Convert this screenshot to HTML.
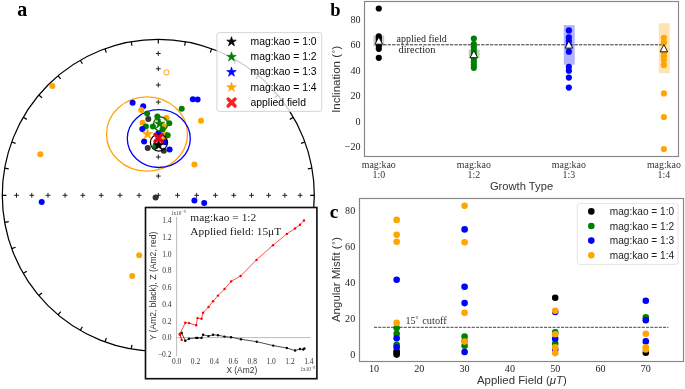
<!DOCTYPE html>
<html><head><meta charset="utf-8"><style>
html,body{margin:0;padding:0;background:#fff;}
body{width:685px;height:389px;overflow:hidden;font-family:"Liberation Sans", sans-serif;}
svg{display:block;will-change:transform;}
</style></head><body>
<svg width="685" height="389" viewBox="0 0 685 389">
<rect width="685" height="389" fill="#fff"/>
<circle cx="158.3" cy="195.3" r="156" fill="none" stroke="#000" stroke-width="1.25"/>
<path d="M158.3 39.3L158.3 43.44M185.39 41.67L184.67 45.74M211.66 48.71L210.24 52.6M236.3 60.2L234.23 63.78M258.57 75.8L255.92 78.97M277.8 95.03L274.63 97.68M293.4 117.3L289.82 119.37M304.89 141.94L301 143.36M311.93 168.21L307.86 168.93M314.3 195.3L310.16 195.3M311.93 222.39L307.86 221.67M304.89 248.66L301 247.24M293.4 273.3L289.82 271.23M277.8 295.57L274.63 292.92M258.57 314.8L255.92 311.63M236.3 330.4L234.23 326.82M211.66 341.89L210.24 338M185.39 348.93L184.67 344.86M158.3 351.3L158.3 347.16M131.21 348.93L131.93 344.86M104.94 341.89L106.36 338M80.3 330.4L82.37 326.82M58.03 314.8L60.68 311.63M38.8 295.57L41.97 292.92M23.2 273.3L26.78 271.23M11.71 248.66L15.6 247.24M4.67 222.39L8.74 221.67M2.3 195.3L6.44 195.3M4.67 168.21L8.74 168.93M11.71 141.94L15.6 143.36M23.2 117.3L26.78 119.37M38.8 95.03L41.97 97.68M58.03 75.8L60.68 78.97M80.3 60.2L82.37 63.78M104.94 48.71L106.36 52.6M131.21 41.67L131.93 45.74" stroke="#000" stroke-width="1.2" fill="none"/>
<path d="M155.9 233.61h4.8M158.3 231.21v4.8M155.9 156.99h4.8M158.3 154.59v4.8M297.71 195.3h4.8M300.11 192.9v4.8M155.9 53.49h4.8M158.3 51.09v4.8M98.8 195.3h4.8M101.2 192.9v4.8M155.9 214.53h4.8M158.3 212.13v4.8M29.36 195.3h4.8M31.76 192.9v4.8M155.9 84.99h4.8M158.3 82.59v4.8M282.44 195.3h4.8M284.84 192.9v4.8M136.67 195.3h4.8M139.07 192.9v4.8M266.21 195.3h4.8M268.61 192.9v4.8M62.66 195.3h4.8M65.06 192.9v4.8M155.9 288.54h4.8M158.3 286.14v4.8M155.9 321.84h4.8M158.3 319.44v4.8M155.9 195.3h4.8M158.3 192.9v4.8M175.13 195.3h4.8M177.53 192.9v4.8M155.9 305.61h4.8M158.3 303.21v4.8M155.9 119.84h4.8M158.3 117.44v4.8M80.44 195.3h4.8M82.84 192.9v4.8M155.9 102.06h4.8M158.3 99.66v4.8M155.9 68.76h4.8M158.3 66.36v4.8M45.59 195.3h4.8M47.99 192.9v4.8M231.36 195.3h4.8M233.76 192.9v4.8M155.9 176.07h4.8M158.3 173.67v4.8M155.9 270.76h4.8M158.3 268.36v4.8M194.21 195.3h4.8M196.61 192.9v4.8M117.59 195.3h4.8M119.99 192.9v4.8M14.09 195.3h4.8M16.49 192.9v4.8M213 195.3h4.8M215.4 192.9v4.8M155.9 252.4h4.8M158.3 250v4.8M155.9 337.11h4.8M158.3 334.71v4.8M249.14 195.3h4.8M251.54 192.9v4.8M155.9 138.2h4.8M158.3 135.8v4.8" stroke="#222" stroke-width="1" fill="none"/>
<ellipse cx="147" cy="134" rx="40.5" ry="37.2" fill="none" stroke="#ffa500" stroke-width="1.3"/>
<ellipse cx="158.8" cy="138.6" rx="31.5" ry="28.9" fill="none" stroke="#0000ff" stroke-width="1.3"/>
<circle cx="52.4" cy="85.9" r="3" fill="#ffa500"/>
<circle cx="40.3" cy="154.3" r="3" fill="#ffa500"/>
<circle cx="41.7" cy="202.1" r="3" fill="#0000ff"/>
<circle cx="192.8" cy="99.2" r="3" fill="#0000ff"/>
<circle cx="197.6" cy="99.5" r="3" fill="#0000ff"/>
<circle cx="181.7" cy="108.8" r="3" fill="#008000"/>
<circle cx="201" cy="120.8" r="3" fill="#ffa500"/>
<circle cx="194.4" cy="164.5" r="3" fill="#ffa500"/>
<circle cx="132.6" cy="102.8" r="3" fill="#0000ff"/>
<circle cx="194.4" cy="200.5" r="3" fill="#0000ff"/>
<circle cx="204.2" cy="202.9" r="3" fill="#0000ff"/>
<circle cx="139.2" cy="255.3" r="3" fill="#ffa500"/>
<circle cx="132.2" cy="276.1" r="3" fill="#ffa500"/>
<circle cx="155.6" cy="197.4" r="3" fill="#333333"/>
<circle cx="143.2" cy="106.3" r="3" fill="#0000ff"/>
<circle cx="141.3" cy="110.1" r="3" fill="#ffa500"/>
<circle cx="147.1" cy="113.4" r="3" fill="#008000"/>
<circle cx="148.3" cy="119" r="3" fill="#333333"/>
<circle cx="157.3" cy="116.5" r="3" fill="#008000"/>
<circle cx="166.5" cy="118" r="3" fill="#ffa500"/>
<circle cx="169.3" cy="123.3" r="3" fill="#008000"/>
<circle cx="142.6" cy="122.7" r="3" fill="#ffa500"/>
<circle cx="145.9" cy="126.5" r="3" fill="#008000"/>
<circle cx="152.9" cy="126.4" r="3" fill="#008000"/>
<circle cx="164.4" cy="126.4" r="3" fill="#ffa500"/>
<circle cx="142.3" cy="129" r="3" fill="#0000ff"/>
<circle cx="162.5" cy="129.5" r="3" fill="#008000"/>
<circle cx="158.5" cy="133" r="3" fill="#0000ff"/>
<circle cx="165.7" cy="134.6" r="3" fill="#ffa500"/>
<circle cx="167.7" cy="135.2" r="3" fill="#008000"/>
<circle cx="144.1" cy="141.6" r="3" fill="#0000ff"/>
<circle cx="164.4" cy="139.7" r="3" fill="#ffa500"/>
<circle cx="165.1" cy="142.3" r="3" fill="#0000ff"/>
<circle cx="155.3" cy="146.3" r="3" fill="#008000"/>
<circle cx="147.7" cy="148.1" r="3" fill="#333333"/>
<circle cx="163.8" cy="150.7" r="3" fill="#333333"/>
<circle cx="169.6" cy="149.4" r="3" fill="#0000ff"/>
<circle cx="166.5" cy="72.4" r="2.6" fill="none" stroke="#ffa500" stroke-width="1"/>
<circle cx="160.6" cy="124" r="7" fill="none" stroke="#008000" stroke-width="1.3"/>
<circle cx="158.9" cy="142.6" r="8.5" fill="none" stroke="#000" stroke-width="1.3"/>
<polygon points="159.6,118.4 160.81,122.13 164.74,122.13 161.56,124.44 162.77,128.17 159.6,125.86 156.43,128.17 157.64,124.44 154.46,122.13 158.39,122.13" fill="#008000" stroke="#008000" stroke-width="0.7" stroke-linejoin="miter"/>
<polygon points="147.5,128.7 148.71,132.43 152.64,132.43 149.46,134.74 150.67,138.47 147.5,136.16 144.33,138.47 145.54,134.74 142.36,132.43 146.29,132.43" fill="#ffa500" stroke="#ffa500" stroke-width="0.7" stroke-linejoin="miter"/>
<polygon points="158.6,139.8 159.81,143.53 163.74,143.53 160.56,145.84 161.77,149.57 158.6,147.26 155.43,149.57 156.64,145.84 153.46,143.53 157.39,143.53" fill="#000" stroke="#000" stroke-width="0.7" stroke-linejoin="miter"/>
<path d="M155 134.4L162 141.4M155 141.4L162 134.4" stroke="#e4001e" stroke-width="3.6" stroke-linecap="round"/>
<rect x="216.9" y="32.6" width="104.8" height="78.8" rx="2.5" fill="#fff" fill-opacity="0.8" stroke="#ccc" stroke-width="0.8"/>
<polygon points="231.5,36.7 232.62,40.15 236.26,40.15 233.32,42.29 234.44,45.75 231.5,43.61 228.56,45.75 229.68,42.29 226.74,40.15 230.38,40.15" fill="#000" stroke="#000" stroke-width="0.7" stroke-linejoin="miter"/>
<text x="250.5" y="44.9" font-family='"Liberation Sans", sans-serif' font-size="10.4" fill="#000">mag:kao = 1:0</text>
<polygon points="231.5,51.9 232.62,55.35 236.26,55.35 233.32,57.49 234.44,60.95 231.5,58.81 228.56,60.95 229.68,57.49 226.74,55.35 230.38,55.35" fill="#008000" stroke="#008000" stroke-width="0.7" stroke-linejoin="miter"/>
<text x="250.5" y="60.1" font-family='"Liberation Sans", sans-serif' font-size="10.4" fill="#000">mag:kao = 1:2</text>
<polygon points="231.5,67.1 232.62,70.55 236.26,70.55 233.32,72.69 234.44,76.15 231.5,74.01 228.56,76.15 229.68,72.69 226.74,70.55 230.38,70.55" fill="#0000ff" stroke="#0000ff" stroke-width="0.7" stroke-linejoin="miter"/>
<text x="250.5" y="75.3" font-family='"Liberation Sans", sans-serif' font-size="10.4" fill="#000">mag:kao = 1:3</text>
<polygon points="231.5,82.3 232.62,85.75 236.26,85.75 233.32,87.89 234.44,91.35 231.5,89.21 228.56,91.35 229.68,87.89 226.74,85.75 230.38,85.75" fill="#ffa500" stroke="#ffa500" stroke-width="0.7" stroke-linejoin="miter"/>
<text x="250.5" y="90.5" font-family='"Liberation Sans", sans-serif' font-size="10.4" fill="#000">mag:kao = 1:4</text>
<path d="M228.2 99.1L235 105.9M228.2 105.9L235 99.1" stroke="#ff2020" stroke-width="3.6" stroke-linecap="round"/>
<text x="250.5" y="105.7" font-family='"Liberation Sans", sans-serif' font-size="10.4" fill="#000">applied field</text>
<text x="17.2" y="15.9" font-family='"Liberation Serif", serif' font-weight="bold" font-size="20">a</text>
<text x="330.3" y="15.7" font-family='"Liberation Serif", serif' font-weight="bold" font-size="18.5">b</text>
<text x="329.8" y="218" font-family='"Liberation Serif", serif' font-weight="bold" font-size="19.4">c</text>
<rect x="145.5" y="207.5" width="171.4" height="171.2" fill="#fff" stroke="#111" stroke-width="1.65"/>
<path d="M176.6 217V356.19M176.6 337.6H310.5" stroke="#bbb" stroke-width="1" fill="none"/>
<text x="171.5" y="222.98" text-anchor="end" font-family='"Liberation Serif", serif' font-size="7.5" fill="#333">1.4</text>
<text x="171.5" y="239.74" text-anchor="end" font-family='"Liberation Serif", serif' font-size="7.5" fill="#333">1.2</text>
<text x="171.5" y="256.5" text-anchor="end" font-family='"Liberation Serif", serif' font-size="7.5" fill="#333">1.0</text>
<text x="171.5" y="273.26" text-anchor="end" font-family='"Liberation Serif", serif' font-size="7.5" fill="#333">0.8</text>
<text x="171.5" y="290.02" text-anchor="end" font-family='"Liberation Serif", serif' font-size="7.5" fill="#333">0.6</text>
<text x="171.5" y="306.78" text-anchor="end" font-family='"Liberation Serif", serif' font-size="7.5" fill="#333">0.4</text>
<text x="171.5" y="323.54" text-anchor="end" font-family='"Liberation Serif", serif' font-size="7.5" fill="#333">0.2</text>
<text x="171.5" y="340.3" text-anchor="end" font-family='"Liberation Serif", serif' font-size="7.5" fill="#333">0.0</text>
<text x="171.5" y="357.06" text-anchor="end" font-family='"Liberation Serif", serif' font-size="7.5" fill="#333">−0.2</text>
<text x="176.6" y="364.3" text-anchor="middle" font-family='"Liberation Serif", serif' font-size="7.5" fill="#333">0.0</text>
<text x="195.5" y="364.3" text-anchor="middle" font-family='"Liberation Serif", serif' font-size="7.5" fill="#333">0.2</text>
<text x="214.4" y="364.3" text-anchor="middle" font-family='"Liberation Serif", serif' font-size="7.5" fill="#333">0.4</text>
<text x="233.3" y="364.3" text-anchor="middle" font-family='"Liberation Serif", serif' font-size="7.5" fill="#333">0.6</text>
<text x="252.2" y="364.3" text-anchor="middle" font-family='"Liberation Serif", serif' font-size="7.5" fill="#333">0.8</text>
<text x="271.1" y="364.3" text-anchor="middle" font-family='"Liberation Serif", serif' font-size="7.5" fill="#333">1.0</text>
<text x="290" y="364.3" text-anchor="middle" font-family='"Liberation Serif", serif' font-size="7.5" fill="#333">1.2</text>
<text x="308.9" y="364.3" text-anchor="middle" font-family='"Liberation Serif", serif' font-size="7.5" fill="#333">1.4</text>
<text x="171" y="214.8" font-family='"Liberation Serif", serif' font-size="5.2" fill="#444">1x10<tspan dy="-2.3" font-size="4">−9</tspan></text>
<text x="300.5" y="371.2" font-family='"Liberation Serif", serif' font-size="5.2" fill="#444">1x10<tspan dy="-2.3" font-size="4">−9</tspan></text>
<text x="226.4" y="373.4" textLength="30.8" lengthAdjust="spacingAndGlyphs" font-family='"Liberation Sans", sans-serif' font-size="9.3" fill="#333">X (Am2)</text>
<text transform="translate(155.5 286) rotate(-90)" text-anchor="middle" font-family='"Liberation Sans", sans-serif' font-size="8.55" fill="#333">Y (Am2, black), Z (Am2, red)</text>
<text x="190.3" y="220.5" font-family='"Liberation Serif", serif' font-size="11.4" fill="#222">mag:kao = 1:2</text>
<text x="190.3" y="234.7" font-family='"Liberation Serif", serif' font-size="11.4" fill="#222">Applied field: 15μT</text>
<path d="M179.9 333.9 L181.7 333 L185.3 340.8 L189 338.8 L196.2 337.9 L197.5 337.9 L201.5 337.9 L203.1 334.8 L208.5 336.1 L213.1 334.8 L218 335.2 L224.5 336.6 L231.1 337.2 L241 339.3 L256.8 341.7 L273.2 345.6 L286.8 348 L295.1 350.5 L300 349 L303.2 349.5 L304.4 348.5" stroke="#000" stroke-width="0.7" fill="none"/><circle cx="179.9" cy="333.9" r="1.2" fill="#000"/><circle cx="181.7" cy="333" r="1.2" fill="#000"/><circle cx="185.3" cy="340.8" r="1.2" fill="#000"/><circle cx="189" cy="338.8" r="1.2" fill="#000"/><circle cx="196.2" cy="337.9" r="1.2" fill="#000"/><circle cx="197.5" cy="337.9" r="1.2" fill="#000"/><circle cx="201.5" cy="337.9" r="1.2" fill="#000"/><circle cx="203.1" cy="334.8" r="1.2" fill="#000"/><circle cx="208.5" cy="336.1" r="1.2" fill="#000"/><circle cx="213.1" cy="334.8" r="1.2" fill="#000"/><circle cx="218" cy="335.2" r="1.2" fill="#000"/><circle cx="224.5" cy="336.6" r="1.2" fill="#000"/><circle cx="231.1" cy="337.2" r="1.2" fill="#000"/><circle cx="241" cy="339.3" r="1.2" fill="#000"/><circle cx="256.8" cy="341.7" r="1.2" fill="#000"/><circle cx="273.2" cy="345.6" r="1.2" fill="#000"/><circle cx="286.8" cy="348" r="1.2" fill="#000"/><circle cx="295.1" cy="350.5" r="1.2" fill="#000"/><circle cx="300" cy="349" r="1.2" fill="#000"/><circle cx="303.2" cy="349.5" r="1.2" fill="#000"/><circle cx="304.4" cy="348.5" r="1.2" fill="#000"/>
<path d="M179.9 334.8 L181.7 339.9 L179.9 333.9 L185.3 322.8 L189.1 323.1 L196.2 325.3 L197.5 318.1 L201.5 318.7 L203.1 312.7 L208.5 307 L213.1 301.2 L218 295.6 L224.5 289 L231.1 281.4 L240.6 276 L256.5 259.9 L273 245.2 L286.9 233.9 L295 228.5 L300 224.7 L304 220.5" stroke="#ff0000" stroke-width="0.7" fill="none"/><circle cx="179.9" cy="334.8" r="1.2" fill="#ff0000"/><circle cx="181.7" cy="339.9" r="1.2" fill="#ff0000"/><circle cx="179.9" cy="333.9" r="1.2" fill="#ff0000"/><circle cx="185.3" cy="322.8" r="1.2" fill="#ff0000"/><circle cx="189.1" cy="323.1" r="1.2" fill="#ff0000"/><circle cx="196.2" cy="325.3" r="1.2" fill="#ff0000"/><circle cx="197.5" cy="318.1" r="1.2" fill="#ff0000"/><circle cx="201.5" cy="318.7" r="1.2" fill="#ff0000"/><circle cx="203.1" cy="312.7" r="1.2" fill="#ff0000"/><circle cx="208.5" cy="307" r="1.2" fill="#ff0000"/><circle cx="213.1" cy="301.2" r="1.2" fill="#ff0000"/><circle cx="218" cy="295.6" r="1.2" fill="#ff0000"/><circle cx="224.5" cy="289" r="1.2" fill="#ff0000"/><circle cx="231.1" cy="281.4" r="1.2" fill="#ff0000"/><circle cx="240.6" cy="276" r="1.2" fill="#ff0000"/><circle cx="256.5" cy="259.9" r="1.2" fill="#ff0000"/><circle cx="273" cy="245.2" r="1.2" fill="#ff0000"/><circle cx="286.9" cy="233.9" r="1.2" fill="#ff0000"/><circle cx="295" cy="228.5" r="1.2" fill="#ff0000"/><circle cx="300" cy="224.7" r="1.2" fill="#ff0000"/><circle cx="304" cy="220.5" r="1.2" fill="#ff0000"/>
<rect x="364.5" y="1.5" width="314" height="155" fill="none" stroke="#858585" stroke-width="1.15"/>
<text x="360.5" y="22.7" text-anchor="end" font-family='"Liberation Serif", serif' font-size="10.1" fill="#222">80</text>
<text x="360.5" y="48.2" text-anchor="end" font-family='"Liberation Serif", serif' font-size="10.1" fill="#222">60</text>
<text x="360.5" y="73.7" text-anchor="end" font-family='"Liberation Serif", serif' font-size="10.1" fill="#222">40</text>
<text x="360.5" y="99.2" text-anchor="end" font-family='"Liberation Serif", serif' font-size="10.1" fill="#222">20</text>
<text x="360.5" y="124.7" text-anchor="end" font-family='"Liberation Serif", serif' font-size="10.1" fill="#222">0</text>
<text x="360.5" y="150.2" text-anchor="end" font-family='"Liberation Serif", serif' font-size="10.1" fill="#222">−20</text>
<text x="378.8" y="167.5" text-anchor="middle" font-family='"Liberation Serif", serif' font-size="9.9" fill="#333">mag:kao</text>
<text x="378.8" y="178.3" text-anchor="middle" font-family='"Liberation Serif", serif' font-size="9.9" fill="#333">1:0</text>
<text x="473.83" y="167.5" text-anchor="middle" font-family='"Liberation Serif", serif' font-size="9.9" fill="#333">mag:kao</text>
<text x="473.83" y="178.3" text-anchor="middle" font-family='"Liberation Serif", serif' font-size="9.9" fill="#333">1:2</text>
<text x="568.86" y="167.5" text-anchor="middle" font-family='"Liberation Serif", serif' font-size="9.9" fill="#333">mag:kao</text>
<text x="568.86" y="178.3" text-anchor="middle" font-family='"Liberation Serif", serif' font-size="9.9" fill="#333">1:3</text>
<text x="663.89" y="167.5" text-anchor="middle" font-family='"Liberation Serif", serif' font-size="9.9" fill="#333">mag:kao</text>
<text x="663.89" y="178.3" text-anchor="middle" font-family='"Liberation Serif", serif' font-size="9.9" fill="#333">1:4</text>
<text x="521.5" y="190.2" text-anchor="middle" font-family='"Liberation Sans", sans-serif' font-size="11.2" fill="#333">Growth Type</text>
<text transform="translate(340.4 79.2) rotate(-90)" text-anchor="middle" font-family='"Liberation Sans", sans-serif' font-size="11.5" fill="#333">Inclination (<tspan font-size="8" dx="0.7" dy="-2.6">°</tspan><tspan dx="0.7" dy="2.6">)</tspan></text>
<rect x="373.4" y="35.5" width="10.8" height="10.7" fill="#000" fill-opacity="0.2"/>
<rect x="468.8" y="49.6" width="10.8" height="8.7" fill="#008000" fill-opacity="0.3"/>
<rect x="563.8" y="25.1" width="10.9" height="39.6" fill="#0000ff" fill-opacity="0.3"/>
<rect x="658.8" y="23.2" width="10.9" height="50" fill="#ffa500" fill-opacity="0.3"/>
<path d="M378.8 44.8H663.89" stroke="#333" stroke-width="1" stroke-dasharray="3.3 1.15"/>
<circle cx="378.8" cy="8.5" r="3.1" fill="#000"/>
<circle cx="378.8" cy="36.4" r="3.1" fill="#000"/>
<circle cx="378.8" cy="38.5" r="3.1" fill="#000"/>
<circle cx="378.8" cy="41" r="3.1" fill="#000"/>
<circle cx="378.8" cy="43.5" r="3.1" fill="#000"/>
<circle cx="378.8" cy="46" r="3.1" fill="#000"/>
<circle cx="378.8" cy="48.8" r="3.1" fill="#000"/>
<circle cx="378.8" cy="57.8" r="3.1" fill="#000"/>
<circle cx="473.83" cy="38.5" r="3.1" fill="#008000"/>
<circle cx="473.83" cy="44" r="3.1" fill="#008000"/>
<circle cx="473.83" cy="47" r="3.1" fill="#008000"/>
<circle cx="473.83" cy="50" r="3.1" fill="#008000"/>
<circle cx="473.83" cy="53" r="3.1" fill="#008000"/>
<circle cx="473.83" cy="56" r="3.1" fill="#008000"/>
<circle cx="473.83" cy="59" r="3.1" fill="#008000"/>
<circle cx="473.83" cy="62" r="3.1" fill="#008000"/>
<circle cx="473.83" cy="65" r="3.1" fill="#008000"/>
<circle cx="473.83" cy="67.8" r="3.1" fill="#008000"/>
<circle cx="568.86" cy="30.4" r="3.1" fill="#0000ff"/>
<circle cx="568.86" cy="37.3" r="3.1" fill="#0000ff"/>
<circle cx="568.86" cy="41" r="3.1" fill="#0000ff"/>
<circle cx="568.86" cy="45.2" r="3.1" fill="#0000ff"/>
<circle cx="568.86" cy="51.7" r="3.1" fill="#0000ff"/>
<circle cx="568.86" cy="66.8" r="3.1" fill="#0000ff"/>
<circle cx="568.86" cy="70.7" r="3.1" fill="#0000ff"/>
<circle cx="568.86" cy="77.6" r="3.1" fill="#0000ff"/>
<circle cx="568.86" cy="87.6" r="3.1" fill="#0000ff"/>
<circle cx="663.89" cy="37.8" r="3.1" fill="#ffa500"/>
<circle cx="663.89" cy="42.4" r="3.1" fill="#ffa500"/>
<circle cx="663.89" cy="52.9" r="3.1" fill="#ffa500"/>
<circle cx="663.89" cy="56" r="3.1" fill="#ffa500"/>
<circle cx="663.89" cy="59.8" r="3.1" fill="#ffa500"/>
<circle cx="663.89" cy="64.9" r="3.1" fill="#ffa500"/>
<circle cx="663.89" cy="93.4" r="3.1" fill="#ffa500"/>
<circle cx="663.89" cy="117" r="3.1" fill="#ffa500"/>
<circle cx="663.89" cy="149.1" r="3.1" fill="#ffa500"/>
<path d="M378.8 37L382.6 44.2L375 44.2Z" fill="#fff" stroke="#000" stroke-width="0.9" stroke-linejoin="miter"/>
<path d="M473.83 50.5L477.63 57.7L470.03 57.7Z" fill="#fff" stroke="#000" stroke-width="0.9" stroke-linejoin="miter"/>
<path d="M568.86 40.9L572.66 48.1L565.06 48.1Z" fill="#fff" stroke="#000" stroke-width="0.9" stroke-linejoin="miter"/>
<path d="M663.89 44.6L667.69 51.8L660.09 51.8Z" fill="#fff" stroke="#000" stroke-width="0.9" stroke-linejoin="miter"/>
<text x="396.5" y="41.9" font-family='"Liberation Serif", serif' font-size="10" fill="#222">applied field</text>
<text x="398.5" y="52.6" font-family='"Liberation Serif", serif' font-size="10.4" fill="#222">direction</text>
<rect x="359.5" y="198.5" width="324" height="163" fill="none" stroke="#858585" stroke-width="1.15"/>
<text x="355.2" y="213.7" text-anchor="end" font-family='"Liberation Serif", serif' font-size="10.1" fill="#222">80</text>
<text x="355.2" y="249.7" text-anchor="end" font-family='"Liberation Serif", serif' font-size="10.1" fill="#222">60</text>
<text x="355.2" y="285.7" text-anchor="end" font-family='"Liberation Serif", serif' font-size="10.1" fill="#222">40</text>
<text x="355.2" y="321.7" text-anchor="end" font-family='"Liberation Serif", serif' font-size="10.1" fill="#222">20</text>
<text x="355.2" y="357.7" text-anchor="end" font-family='"Liberation Serif", serif' font-size="10.1" fill="#222">0</text>
<text x="374" y="371.9" text-anchor="middle" font-family='"Liberation Serif", serif' font-size="10.1" fill="#222">10</text>
<text x="419.3" y="371.9" text-anchor="middle" font-family='"Liberation Serif", serif' font-size="10.1" fill="#222">20</text>
<text x="464.6" y="371.9" text-anchor="middle" font-family='"Liberation Serif", serif' font-size="10.1" fill="#222">30</text>
<text x="509.9" y="371.9" text-anchor="middle" font-family='"Liberation Serif", serif' font-size="10.1" fill="#222">40</text>
<text x="555.2" y="371.9" text-anchor="middle" font-family='"Liberation Serif", serif' font-size="10.1" fill="#222">50</text>
<text x="600.5" y="371.9" text-anchor="middle" font-family='"Liberation Serif", serif' font-size="10.1" fill="#222">60</text>
<text x="645.8" y="371.9" text-anchor="middle" font-family='"Liberation Serif", serif' font-size="10.1" fill="#222">70</text>
<text x="477" y="384.4" font-family='"Liberation Sans", sans-serif' font-size="11.4" fill="#333">Applied Field (<tspan font-style="italic">μT</tspan>)</text>
<text transform="translate(340.4 279.5) rotate(-90)" text-anchor="middle" font-family='"Liberation Sans", sans-serif' font-size="11.5" fill="#333">Angular Misfit (<tspan font-size="8" dx="0.7" dy="-2.6">°</tspan><tspan dx="0.7" dy="2.6">)</tspan></text>
<path d="M374 327.3H668.45" stroke="#444" stroke-width="1" stroke-dasharray="3.1 1.15"/>
<text x="405.5" y="324.3" font-family='"Liberation Serif", serif' font-size="10.1" fill="#333">15<tspan font-size="7.5" dy="-2.5">°</tspan></text>
<text x="422.3" y="324.3" font-family='"Liberation Serif", serif' font-size="10.3" fill="#333">cutoff</text>
<circle cx="396.65" cy="351.3" r="3.3" fill="#000000"/>
<circle cx="396.65" cy="353" r="3.3" fill="#000000"/>
<circle cx="396.65" cy="354.6" r="3.3" fill="#000000"/>
<circle cx="555.2" cy="297.8" r="3.3" fill="#000000"/>
<circle cx="645.8" cy="352.8" r="3.3" fill="#000000"/>
<circle cx="396.65" cy="328" r="3.3" fill="#008000"/>
<circle cx="396.65" cy="333.8" r="3.3" fill="#008000"/>
<circle cx="396.65" cy="344.7" r="3.3" fill="#008000"/>
<circle cx="464.6" cy="336.5" r="3.3" fill="#008000"/>
<circle cx="464.6" cy="341" r="3.3" fill="#008000"/>
<circle cx="464.6" cy="345.8" r="3.3" fill="#008000"/>
<circle cx="555.2" cy="332.4" r="3.3" fill="#008000"/>
<circle cx="555.2" cy="343.6" r="3.3" fill="#008000"/>
<circle cx="645.8" cy="317.4" r="3.3" fill="#008000"/>
<circle cx="396.65" cy="279.7" r="3.3" fill="#0000ff"/>
<circle cx="396.65" cy="338.3" r="3.3" fill="#0000ff"/>
<circle cx="396.65" cy="347.3" r="3.3" fill="#0000ff"/>
<circle cx="464.6" cy="229.4" r="3.3" fill="#0000ff"/>
<circle cx="464.6" cy="286.7" r="3.3" fill="#0000ff"/>
<circle cx="464.6" cy="303.1" r="3.3" fill="#0000ff"/>
<circle cx="464.6" cy="352" r="3.3" fill="#0000ff"/>
<circle cx="555.2" cy="312" r="3.3" fill="#0000ff"/>
<circle cx="555.2" cy="338.7" r="3.3" fill="#0000ff"/>
<circle cx="555.2" cy="349.5" r="3.3" fill="#0000ff"/>
<circle cx="645.8" cy="300.8" r="3.3" fill="#0000ff"/>
<circle cx="645.8" cy="320.3" r="3.3" fill="#0000ff"/>
<circle cx="645.8" cy="341.4" r="3.3" fill="#0000ff"/>
<circle cx="396.65" cy="219.9" r="3.3" fill="#ffa500"/>
<circle cx="396.65" cy="234.8" r="3.3" fill="#ffa500"/>
<circle cx="396.65" cy="241.7" r="3.3" fill="#ffa500"/>
<circle cx="396.65" cy="322.9" r="3.3" fill="#ffa500"/>
<circle cx="464.6" cy="205.7" r="3.3" fill="#ffa500"/>
<circle cx="464.6" cy="242.2" r="3.3" fill="#ffa500"/>
<circle cx="464.6" cy="312.8" r="3.3" fill="#ffa500"/>
<circle cx="464.6" cy="341.6" r="3.3" fill="#ffa500"/>
<circle cx="555.2" cy="310.7" r="3.3" fill="#ffa500"/>
<circle cx="555.2" cy="334.2" r="3.3" fill="#ffa500"/>
<circle cx="555.2" cy="347.4" r="3.3" fill="#ffa500"/>
<circle cx="555.2" cy="353.1" r="3.3" fill="#ffa500"/>
<circle cx="645.8" cy="333.7" r="3.3" fill="#ffa500"/>
<circle cx="645.8" cy="347.4" r="3.3" fill="#ffa500"/>
<circle cx="645.8" cy="349.5" r="3.3" fill="#ffa500"/>
<rect x="577.3" y="203.6" width="100.7" height="60.8" rx="2.5" fill="#fff" fill-opacity="0.8" stroke="#ddd" stroke-width="0.8"/>
<circle cx="591.3" cy="211.4" r="3.3" fill="#000"/>
<text x="609.8" y="215" font-family='"Liberation Sans", sans-serif' font-size="10.1" fill="#222">mag:kao = 1:0</text>
<circle cx="591.3" cy="226" r="3.3" fill="#008000"/>
<text x="609.8" y="229.6" font-family='"Liberation Sans", sans-serif' font-size="10.1" fill="#222">mag:kao = 1:2</text>
<circle cx="591.3" cy="240.6" r="3.3" fill="#0000ff"/>
<text x="609.8" y="244.2" font-family='"Liberation Sans", sans-serif' font-size="10.1" fill="#222">mag:kao = 1:3</text>
<circle cx="591.3" cy="255.2" r="3.3" fill="#ffa500"/>
<text x="609.8" y="258.8" font-family='"Liberation Sans", sans-serif' font-size="10.1" fill="#222">mag:kao = 1:4</text>
</svg>
</body></html>
